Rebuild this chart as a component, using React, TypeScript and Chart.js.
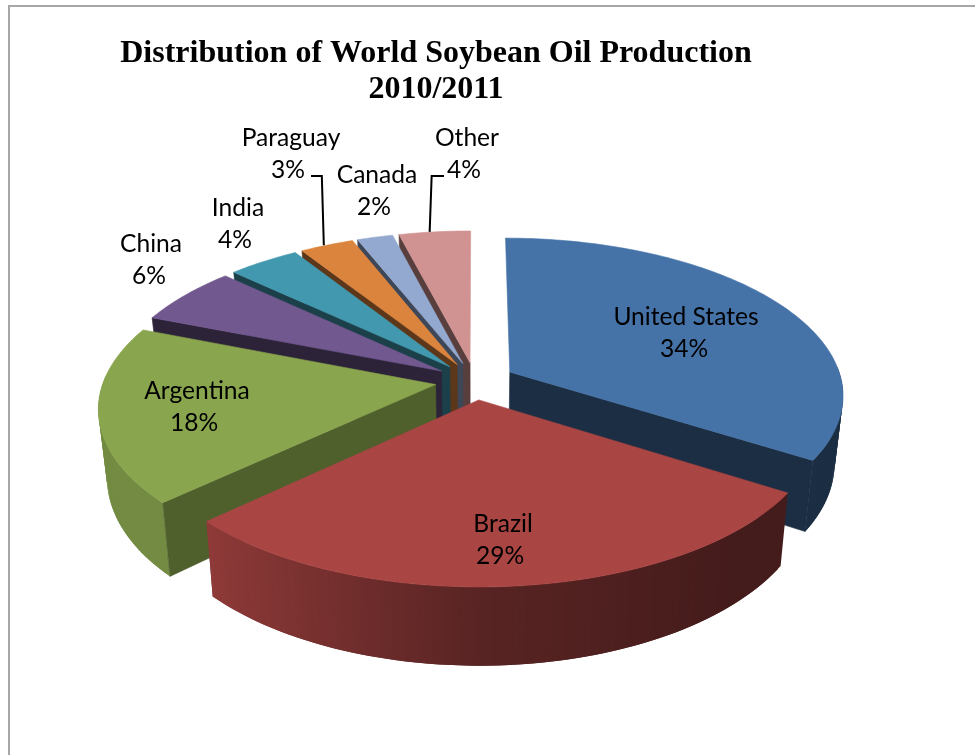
import React, { useEffect, useRef } from "react";
import { Chart, registerables } from "chart.js";

Chart.register(...registerables);

// Share of world soybean oil production, percent.
const countries = ["United States", "Brazil", "Argentina", "China", "India", "Paraguay", "Canada", "Other"];
const shares = [34, 29, 18, 6, 4, 3, 2, 4];
const sliceColors = ["#4572A7", "#A94543", "#89A54E", "#71588F", "#4198AF", "#DB843D", "#93A9CF", "#D19392"];
const cutTones = [0.4, 0.4, 0.58, 0.4, 0.42, 0.42, 0.42, 0.42];
const titleLines = ["Distribution of World Soybean Oil Production", "2010/2011"];

// Where each two-line label sits: name centre x, percent centre x, name centre y.
const labelSpots = [
  [686, 684, 317],
  [503, 500, 524],
  [197, 194, 391],
  [151, 149, 244],
  [238, 235, 208],
  [291, 288, 138],
  [377, 374, 175],
  [467, 464, 138],
];
// Leader lines: slice index, the label-side end, and a small shift of the rim end.
const leaders = [
  { slice: 5, fromX: 311, nudge: -3, elbow: -2 },
  { slice: 7, fromX: 444, nudge: -5, elbow: 2 },
];
const leaderElbowY = 176;

// Oblique view of the pie plane with a mild perspective.
const VIEW = { cx: 475, cy: 381, tilt: 0.467, persp: 0.14, depth: 0.2, floorShrink: 0.977 };

type Pt = [number, number];

function project(wx: number, wz: number, R: number, floor: boolean): Pt {
  const p = 1 / (1 - VIEW.persp * wz);
  const dx = R * wx * p * (floor ? VIEW.floorShrink : 1);
  const dy = R * VIEW.tilt * wz * p + (floor ? R * VIEW.depth * p : 0);
  return [VIEW.cx + dx, VIEW.cy + dy];
}

function tone(hex: string, f: number): string {
  const n = parseInt(hex.slice(1), 16);
  const c = [(n >> 16) & 255, (n >> 8) & 255, n & 255].map((v) => Math.round(v * f));
  return `rgb(${c[0]},${c[1]},${c[2]})`;
}

// Outer wall brightness by how far the surface faces left or right.
function wallTone(cosA: number): number {
  if (cosA <= -0.73) return 0.84;
  if (cosA <= 0) return 0.52 + ((0 - cosA) / 0.73) * 0.32;
  if (cosA <= 0.7) return 0.52 - (cosA / 0.7) * 0.12;
  return 0.4;
}

function fillPoly(ctx: CanvasRenderingContext2D, pts: Pt[], color: string, edge = true) {
  ctx.beginPath();
  pts.forEach((q, i) => (i ? ctx.lineTo(q[0], q[1]) : ctx.moveTo(q[0], q[1])));
  ctx.closePath();
  ctx.fillStyle = color;
  ctx.fill();
  if (edge) {
    ctx.strokeStyle = color;
    ctx.lineWidth = 0.6;
    ctx.stroke();
  }
}

const pie3d = {
  id: "pie3d",
  // The arcs are painted below as solid wedges instead of flat sectors.
  beforeDatasetDraw() {
    return false;
  },
  afterDatasetsDraw(chart: any) {
    const ctx: CanvasRenderingContext2D = chart.ctx;
    const arcs: any[] = chart.getDatasetMeta(0).data;

    const geom = arcs.map((arc, i) => {
      const R = arc.outerRadius;
      const mid = (arc.startAngle + arc.endAngle) / 2;
      const shift = arc.options.offset / 4 / R;
      return { arc, i, R, mid, ox: Math.cos(mid) * shift, oz: Math.sin(mid) * shift };
    });

    const rim = (g: any, a: number, floor: boolean) =>
      project(g.ox + Math.cos(a), g.oz + Math.sin(a), g.R, floor);

    [...geom]
      .sort((a, b) => a.oz - b.oz)
      .forEach((g) => {
        const color = sliceColors[g.i];
        const { startAngle: a0, endAngle: a1 } = g.arc;
        const apexTop = project(g.ox, g.oz, g.R, false);
        const apexFloor = project(g.ox, g.oz, g.R, true);
        const cutColor = tone(color, cutTones[g.i]);
        const steps = Math.max(2, Math.ceil(((a1 - a0) * 180) / Math.PI));
        const at = (s: number) => a0 + ((a1 - a0) * s) / steps;

        // Outer wall: each strip reaches under the next so no seams show.
        for (let s = 0; s < steps; s++) {
          const a = at(s);
          const b = at(s + 1);
          if (Math.sin((a + b) / 2) < -0.05) continue;
          const c = at(Math.min(steps, s + 2));
          const strip = [rim(g, a, false), rim(g, c, false), rim(g, c, true), rim(g, a, true)];
          fillPoly(ctx, strip, tone(color, wallTone(Math.cos((a + b) / 2))), false);
        }

        // Straight cut faces, only where they turn toward the viewer.
        if (Math.cos(a1) > 1e-6) {
          fillPoly(ctx, [apexTop, rim(g, a1, false), rim(g, a1, true), apexFloor], cutColor);
        }
        if (Math.cos(a0) < -1e-6) {
          fillPoly(ctx, [apexTop, rim(g, a0, false), rim(g, a0, true), apexFloor], cutColor);
        }

        // Top face.
        const top: Pt[] = [apexTop];
        for (let s = 0; s <= steps; s++) top.push(rim(g, at(s), false));
        fillPoly(ctx, top, color);
      });

    // Leader lines run from the label to the rim at the slice's middle angle.
    ctx.strokeStyle = "#000";
    ctx.lineWidth = 2;
    leaders.forEach((l) => {
      const g = geom[l.slice];
      const end = rim(g, g.mid, false);
      const endX = end[0] + l.nudge;
      ctx.beginPath();
      ctx.moveTo(l.fromX, leaderElbowY);
      ctx.lineTo(endX + l.elbow, leaderElbowY);
      ctx.lineTo(endX, end[1]);
      ctx.stroke();
    });

    ctx.fillStyle = "#000";
    ctx.font = "24.6px Lato";
    ctx.textAlign = "center";
    ctx.textBaseline = "middle";
    countries.forEach((name, i) => {
      const [x, xPct, y] = labelSpots[i];
      ctx.fillText(name, x, y);
      ctx.fillText(`${shares[i]}%`, xPct, y + 32);
    });
  },
};

export default function App() {
  const ref = useRef<HTMLCanvasElement>(null);

  useEffect(() => {
    const chart = new Chart(ref.current!, {
      type: "pie",
      data: {
        labels: countries,
        datasets: [{ data: shares, backgroundColor: sliceColors, borderWidth: 0, offset: 160 }],
      },
      options: {
        animation: false,
        responsive: false,
        radius: 332,
        layout: { padding: { right: 103 } },
        plugins: {
          legend: { display: false },
          tooltip: { enabled: false },
          title: {
            display: true,
            text: titleLines,
            color: "#000",
            font: { family: "'Liberation Serif'", size: 32, weight: "bold", lineHeight: 36 / 32 },
            padding: { top: 36, bottom: 0 },
          },
        },
      },
      plugins: [pie3d],
    } as any);
    return () => chart.destroy();
  }, []);

  return (
    <div style={{ position: "fixed", inset: 0, overflow: "hidden", background: "#fff" }}>
      <div
        style={{
          position: "absolute",
          left: 8,
          top: 5,
          width: 1000,
          height: 800,
          border: "2px solid #a6a6a6",
        }}
      />
      <canvas
        ref={ref}
        width={975}
        height={755}
        style={{ position: "absolute", left: 0, top: 0, display: "block" }}
      />
    </div>
  );
}
